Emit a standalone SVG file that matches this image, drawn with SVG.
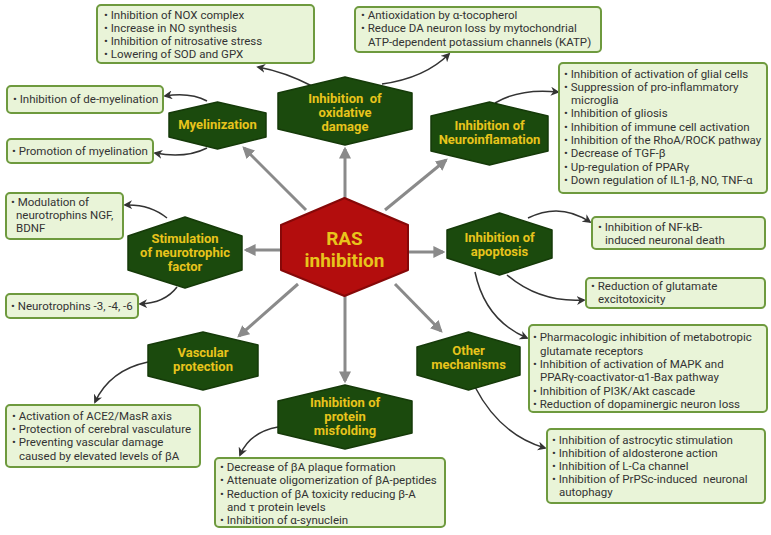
<svg xmlns="http://www.w3.org/2000/svg" width="771" height="535" viewBox="0 0 771 535">
<defs>
<style>
.box{fill:#e9f4d8;stroke:#6e9a3e;stroke-width:2}
.bt{font-family:Roboto,"Liberation Sans",sans-serif;font-size:11.5px;fill:#333}
.hex{fill:#1b4a0d;stroke:#153a09;stroke-width:1.5;stroke-linejoin:round}
.ht{font-family:Roboto,"Liberation Sans",sans-serif;font-size:13px;font-weight:bold;fill:#e8c41c;text-anchor:middle}
.rt{font-family:Roboto,"Liberation Sans",sans-serif;font-size:19px;font-weight:bold;fill:#e8c41c;text-anchor:middle}
.main{stroke:#8a8a8a;stroke-width:3;fill:none;marker-end:url(#ga)}
.cur{stroke:#333;stroke-width:1.5;fill:none;marker-end:url(#ba)}
</style>
<marker id="ga" viewBox="0 0 10 10" refX="8" refY="5" markerWidth="4" markerHeight="4" orient="auto"><path d="M0,0 L10,5 L0,10 z" fill="#8a8a8a"/></marker>
<marker id="ba" viewBox="0 0 10 10" refX="8" refY="5" markerWidth="6" markerHeight="6" orient="auto"><path d="M0,0 L10,5 L0,10 L3,5 z" fill="#333"/></marker>
</defs>
<rect width="771" height="535" fill="#fff"/>

<g id="connectors">
<path class="main" d="M345,198 L345,149"/>
<path class="main" d="M306,210 L244,148"/>
<path class="main" d="M385,210 L446,160"/>
<path class="main" d="M282,250 L246,250"/>
<path class="main" d="M408,252 L443,252"/>
<path class="main" d="M395,284 L441,331"/>
<path class="main" d="M298,284 L239,336"/>
<path class="main" d="M345,296 L345,381"/>
<path class="cur" d="M312,86 Q285,72 258,67"/>
<path class="cur" d="M382,84 Q425,78 449,54"/>
<path class="cur" d="M207,101 Q190,92 165,96"/>
<path class="cur" d="M207,148 Q185,159 155,153"/>
<path class="cur" d="M495,103 Q520,88 558,92"/>
<path class="cur" d="M167,218 Q150,204 125,205"/>
<path class="cur" d="M177,287 Q165,303 140,304"/>
<path class="cur" d="M528,218 Q560,202 590,222"/>
<path class="cur" d="M507,275 Q540,303 584,300"/>
<path class="cur" d="M475,272 Q485,320 527,338"/>
<path class="cur" d="M475,387 Q500,435 545,448"/>
<path class="cur" d="M148,362 Q110,370 95,402"/>
<path class="cur" d="M278,427 Q250,432 240,455"/>
</g>

<g id="ras">
<path d="M344.5,198 L408,225 L408,270 L344.5,296 L281,270 L281,225 Z" fill="#b30d0d" stroke="#860808" stroke-width="2" stroke-linejoin="round"/>
<text class="rt" x="344.5" y="245">RAS</text>
<text class="rt" x="344.5" y="267">inhibition</text>
</g>

<g id="oxidative">
<path class="hex" d="M345,77 L412,93 L412,129 L345,145 L278,129 L278,93 Z"/>
<text class="ht" x="345" y="103" xml:space="preserve">Inhibition  of</text>
<text class="ht" x="345" y="117">oxidative</text>
<text class="ht" x="345" y="131">damage</text>
</g>

<g id="myelinization">
<path class="hex" d="M217.5,102 L266,113 L266,137 L217.5,149 L169,137 L169,113 Z"/>
<text class="ht" x="217.5" y="129">Myelinization</text>
</g>

<g id="neuroinflamation">
<path class="hex" d="M489.5,102 L548,116 L548,151 L489.5,165 L431,151 L431,116 Z"/>
<text class="ht" x="489.5" y="130">Inhibition of</text>
<text class="ht" x="489.5" y="144">Neuroinflamation</text>
</g>

<g id="stimulation">
<path class="hex" d="M185,217 L242,236 L242,270 L185,288 L128,270 L128,236 Z"/>
<text class="ht" x="185" y="243">Stimulation</text>
<text class="ht" x="185" y="257">of neurotrophic</text>
<text class="ht" x="185" y="271">factor</text>
</g>

<g id="apoptosis">
<path class="hex" d="M499.5,213 L552,230 L552,258 L499.5,275 L447,258 L447,230 Z"/>
<text class="ht" x="499.5" y="242">Inhibition of</text>
<text class="ht" x="499.5" y="256">apoptosis</text>
</g>

<g id="other">
<path class="hex" d="M468.5,332 L520,347 L520,375 L468.5,390 L417,375 L417,347 Z"/>
<text class="ht" x="468.5" y="355">Other</text>
<text class="ht" x="468.5" y="369">mechanisms</text>
</g>

<g id="vascular">
<path class="hex" d="M203,332 L258,345 L258,376 L203,390 L148,376 L148,345 Z"/>
<text class="ht" x="203" y="357">Vascular</text>
<text class="ht" x="203" y="371">protection</text>
</g>

<g id="protein">
<path class="hex" d="M345,385 L412,401 L412,433 L345,449 L278,433 L278,401 Z"/>
<text class="ht" x="345" y="407">Inhibition of</text>
<text class="ht" x="345" y="421">protein</text>
<text class="ht" x="345" y="435">misfolding</text>
</g>

<g id="box-nox">
<rect class="box" x="97" y="5" width="217" height="58" rx="4"/>
<text class="bt" x="104" y="19">• Inhibition of NOX complex</text>
<text class="bt" x="104" y="32">• Increase in NO synthesis</text>
<text class="bt" x="104" y="45">• Inhibition of nitrosative stress</text>
<text class="bt" x="104" y="58">• Lowering of SOD and GPX</text>
</g>

<g id="box-antiox">
<rect class="box" x="355" y="7" width="246" height="45" rx="4"/>
<text class="bt" x="361" y="19">• Antioxidation by α-tocopherol</text>
<text class="bt" x="361" y="32">• Reduce DA neuron loss by mytochondrial</text>
<text class="bt" x="368" y="46">ATP-dependent potassium channels (KATP)</text>
</g>

<g id="box-neuroinf">
<rect class="box" x="559" y="63" width="208" height="130" rx="4"/>
<text class="bt" x="564" y="78">• Inhibition of activation of glial cells</text>
<text class="bt" x="564" y="91">• Suppression of pro-inflammatory</text>
<text class="bt" x="571" y="104">microglia</text>
<text class="bt" x="564" y="117">• Inhibition of gliosis</text>
<text class="bt" x="564" y="131">• Inhibition of immune cell activation</text>
<text class="bt" x="564" y="144">• Inhibition of the RhoA/ROCK pathway</text>
<text class="bt" x="564" y="157">• Decrease of TGF-β</text>
<text class="bt" x="564" y="171">• Up-regulation of PPARγ</text>
<text class="bt" x="564" y="184">• Down regulation of IL1-β, NO, TNF-α</text>
</g>

<g id="box-demyel">
<rect class="box" x="7" y="86" width="156" height="27" rx="4"/>
<text class="bt" x="13" y="103">• Inhibition of de-myelination</text>
</g>

<g id="box-promo">
<rect class="box" x="7" y="139" width="146" height="24" rx="4"/>
<text class="bt" x="12" y="155">• Promotion of myelination</text>
</g>

<g id="box-modul">
<rect class="box" x="6" y="193" width="117" height="46" rx="4"/>
<text class="bt" x="11" y="206">• Modulation of</text>
<text class="bt" x="16" y="219">neurotrophins NGF,</text>
<text class="bt" x="16" y="232">BDNF</text>
</g>

<g id="box-ntroph">
<rect class="box" x="6" y="294" width="132" height="24" rx="4"/>
<text class="bt" x="11" y="310">• Neurotrophins -3, -4, -6</text>
</g>

<g id="box-nfkb">
<rect class="box" x="592" y="217" width="173" height="32" rx="4"/>
<text class="bt" x="598" y="231">• Inhibition of NF-kB-</text>
<text class="bt" x="605" y="244">induced neuronal death</text>
</g>

<g id="box-glut">
<rect class="box" x="586" y="278" width="179" height="30" rx="4"/>
<text class="bt" x="591" y="290">• Reduction of glutamate</text>
<text class="bt" x="598" y="303">excitotoxicity</text>
</g>

<g id="box-pharm">
<rect class="box" x="529" y="325" width="238" height="87" rx="4"/>
<text class="bt" x="533" y="341">• Pharmacologic inhibition of metabotropic</text>
<text class="bt" x="540" y="355">glutamate receptors</text>
<text class="bt" x="533" y="368">• Inhibition of activation of MAPK and</text>
<text class="bt" x="540" y="381">PPARγ-coactivator-α1-Bax pathway</text>
<text class="bt" x="533" y="395">• Inhibition of PI3K/Akt cascade</text>
<text class="bt" x="533" y="408">• Reduction of dopaminergic neuron loss</text>
</g>

<g id="box-astro">
<rect class="box" x="547" y="429" width="218" height="74" rx="4"/>
<text class="bt" x="552" y="444">• Inhibition of astrocytic stimulation</text>
<text class="bt" x="552" y="457">• Inhibition of aldosterone action</text>
<text class="bt" x="552" y="470">• Inhibition of L-Ca channel</text>
<text class="bt" x="552" y="483" xml:space="preserve">• Inhibition of PrPSc-induced  neuronal</text>
<text class="bt" x="559" y="496">autophagy</text>
</g>

<g id="box-ace2">
<rect class="box" x="6" y="405" width="194" height="62" rx="4"/>
<text class="bt" x="12" y="420">• Activation of ACE2/MasR axis</text>
<text class="bt" x="12" y="433">• Protection of cerebral vasculature</text>
<text class="bt" x="12" y="446">• Preventing vascular damage</text>
<text class="bt" x="19" y="460">caused by elevated levels of βA</text>
</g>

<g id="box-beta">
<rect class="box" x="215" y="458" width="230" height="69" rx="4"/>
<text class="bt" x="220" y="471">• Decrease of βA plaque formation</text>
<text class="bt" x="220" y="484">• Attenuate oligomerization of βA-peptides</text>
<text class="bt" x="220" y="498">• Reduction of βA toxicity reducing β-A</text>
<text class="bt" x="227" y="511">and τ protein levels</text>
<text class="bt" x="220" y="524">• Inhibition of α-synuclein</text>
</g>
</svg>
